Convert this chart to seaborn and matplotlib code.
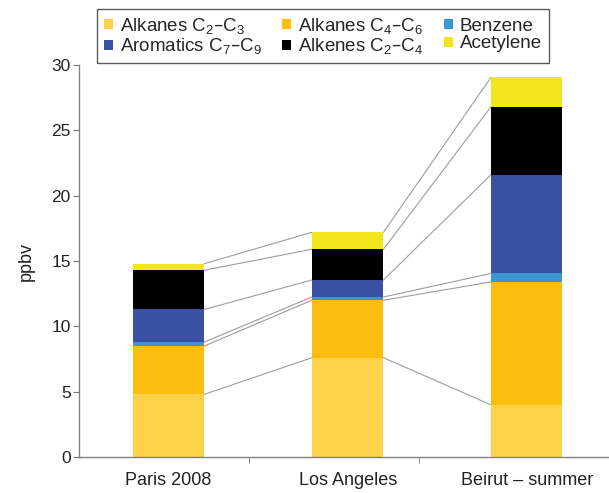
import numpy as np
import pandas as pd
import matplotlib
matplotlib.use('Agg')
import matplotlib.pyplot as plt
import seaborn as sns
from matplotlib.patches import Patch

# values (ppbv)
sites = ['Paris 2008', 'Los Angeles', 'Beirut – summer']
alkanes_c2c3 = [4.8, 7.6, 4.0]
alkanes_c4c6 = [3.7, 4.4, 9.4]
benzene = [0.3, 0.25, 0.65]
aromatics = [2.5, 1.3, 7.55]
alkenes = [3.0, 2.35, 5.2]
acetylene = [0.5, 1.3, 2.25]

species = ['Alkanes C$\\mathregular{_2}$–C$\\mathregular{_3}$',
           'Alkanes C$\\mathregular{_4}$–C$\\mathregular{_6}$',
           'Benzene',
           'Aromatics C$\\mathregular{_7}$–C$\\mathregular{_9}$',
           'Alkenes C$\\mathregular{_2}$–C$\\mathregular{_4}$',
           'Acetylene']
colors = ['#fdd24a', '#fdbd10', '#3b97d1', '#3a50a2', '#000000', '#f1e61c']

sns.set_style('white')
plt.rcParams['font.family'] = ['Liberation Sans', 'DejaVu Sans']

df = pd.DataFrame([alkanes_c2c3, alkanes_c4c6, benzene, aromatics, alkenes, acetylene],
                  index=species, columns=sites).T
cum = df.cumsum(axis=1)

fig = plt.figure(figsize=(6.09, 4.93), dpi=100)
ax = fig.add_axes([0.13, 0.073, 0.87, 0.795])

width = 0.4
# stacked bars: draw cumulative totals from the top down so each layer shows
for sp, col in reversed(list(zip(species, colors))):
    sns.barplot(x=sites, y=cum[sp].values, color=col, width=width,
                saturation=1, linewidth=0, ax=ax, zorder=2)

# thin grey connectors between the layer tops of neighbouring bars
for i in range(len(sites) - 1):
    for sp in species:
        ax.plot([i + width / 2, i + 1 - width / 2],
                [cum[sp].iloc[i], cum[sp].iloc[i + 1]],
                color='#a09c9c', lw=0.8, zorder=1)

ax.set_xlim(-0.5, 2.46)
ax.set_ylim(0, 30)
ax.set_yticks(range(0, 31, 5))
ax.set_ylabel('ppbv', fontsize=13, color='#222222', labelpad=12)
ax.set_xlabel('')
ax.tick_params(axis='y', left=True, length=4, color='#777777', labelsize=12.5,
               labelcolor='#222222', pad=2)
ax.tick_params(axis='x', which='major', bottom=False, labelsize=13,
               labelcolor='#222222', pad=7)
ax.set_xticks([0.45, 1.4], minor=True)
ax.tick_params(axis='x', which='minor', bottom=True, length=4, color='#777777')
for s in ['top', 'right']:
    ax.spines[s].set_visible(False)
for s in ['left', 'bottom']:
    ax.spines[s].set_color('#808080')
    ax.spines[s].set_linewidth(1.0)

handles = [Patch(facecolor=c, edgecolor='none') for c in colors]
order = [0, 3, 1, 4, 2, 5]
leg = fig.legend([handles[k] for k in order], [species[k] for k in order],
                 loc='upper left', bbox_to_anchor=(97 / 609, 1 - 9 / 493),
                 ncol=3, fontsize=13.5, frameon=True, fancybox=False,
                 edgecolor='#333333', handlelength=0.5, handleheight=0.5,
                 handletextpad=0.35, columnspacing=1.1, labelspacing=0.05,
                 borderpad=0.35, borderaxespad=0)
leg.get_frame().set_linewidth(1.0)

fig.savefig('out.png', dpi=100)
